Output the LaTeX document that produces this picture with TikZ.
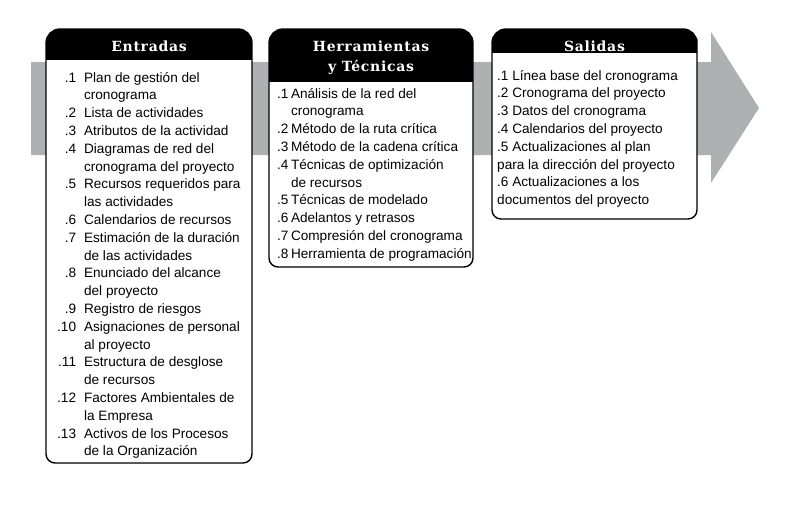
\documentclass[tikz,border=0pt]{standalone}
\usepackage{fontspec}
\setmainfont{Liberation Sans}
\newfontfamily\headfont[LetterSpace=5]{DejaVu Serif}
\definecolor{bandgray}{HTML}{AEB0B1}
\newcommand\ittoshape[4]{(#1,#3) [rounded corners=14pt] -- (#1,29) -- (#2,29) -- (#2,#3) [rounded corners=9pt] -- (#2,#4) -- (#1,#4) -- cycle}
\newcommand\ittobox[4]{%
  \fill[white] \ittoshape{#1}{#2}{#3}{#4};
  \begin{scope}
    \clip \ittoshape{#1}{#2}{#3}{#4};
    \fill[black] (#1,20) rectangle (#2,#3);
  \end{scope}
  \draw[boxline] \ittoshape{#1}{#2}{#3}{#4};
}
\begin{document}
\begin{tikzpicture}[x=1pt,y=-1pt,
  boxline/.style={line width=1.4pt, black},
  headtxt/.style={font=\headfont\bfseries\fontsize{14}{19}\selectfont, text=white, inner sep=0pt, anchor=base},
  bodytxt/.style={font=\fontsize{13.6}{17.8}\selectfont, inner sep=0pt, anchor=base west}]
\useasboundingbox (0,0) rectangle (794,509);
% process arrow
\fill[bandgray] (31,62) -- (711,62) -- (711,32) -- (759,108) -- (711,183) -- (711,155) -- (31,155) -- cycle;
% boxes
\ittobox{46}{252}{60}{463}
\ittobox{269}{473}{82}{267}
\ittobox{492}{697}{53}{219}
% headers
\node[headtxt] (hEnt) at (149,51.5) {Entradas};
\node[headtxt] (hHer1) at (371,51.5) {Herramientas};
\node[headtxt] (hHer2) at (371,71) {y Técnicas};
\node[headtxt] (hSal) at (594.5,51.5) {Salidas};
% inputs
\node[bodytxt] (ent) at (57,82) {\begin{tabular}[t]{@{}r@{\hspace{8pt}}l@{}}
.1 & Plan de gestión del\\
 & cronograma\\
.2 & Lista de actividades\\
.3 & Atributos de la actividad\\
.4 & Diagramas de red del\\
 & cronograma del proyecto\\
.5 & Recursos requeridos para\\
 & las actividades\\
.6 & Calendarios de recursos\\
.7 & Estimación de la duración\\
 & de las actividades\\
.8 & Enunciado del alcance\\
 & del proyecto\\
.9 & Registro de riesgos\\
.10 & Asignaciones de personal\\
 & al proyecto\\
.11 & Estructura de desglose\\
 & de recursos\\
.12 & Factores Ambientales de\\
 & la Empresa\\
.13 & Activos de los Procesos\\
 & de la Organización
\end{tabular}};
% tools
\node[bodytxt] (her) at (277,98) {\begin{tabular}[t]{@{}r@{\hspace{2.5pt}}l@{}}
.1 & Análisis de la red del\\
 & cronograma\\
.2 & Método de la ruta crítica\\
.3 & Método de la cadena crítica\\
.4 & Técnicas de optimización\\
 & de recursos\\
.5 & Técnicas de modelado\\
.6 & Adelantos y retrasos\\
.7 & Compresión del cronograma\\
.8 & Herramienta de programación
\end{tabular}};
% outputs
\node[bodytxt] (sal) at (497,80) {\begin{tabular}[t]{@{}l@{}}
.1 Línea base del cronograma\\
.2 Cronograma del proyecto\\
.3 Datos del cronograma\\
.4 Calendarios del proyecto\\
.5 Actualizaciones al plan\\
para la dirección del proyecto\\
.6 Actualizaciones a los\\
documentos del proyecto
\end{tabular}};
\end{tikzpicture}
\end{document}
